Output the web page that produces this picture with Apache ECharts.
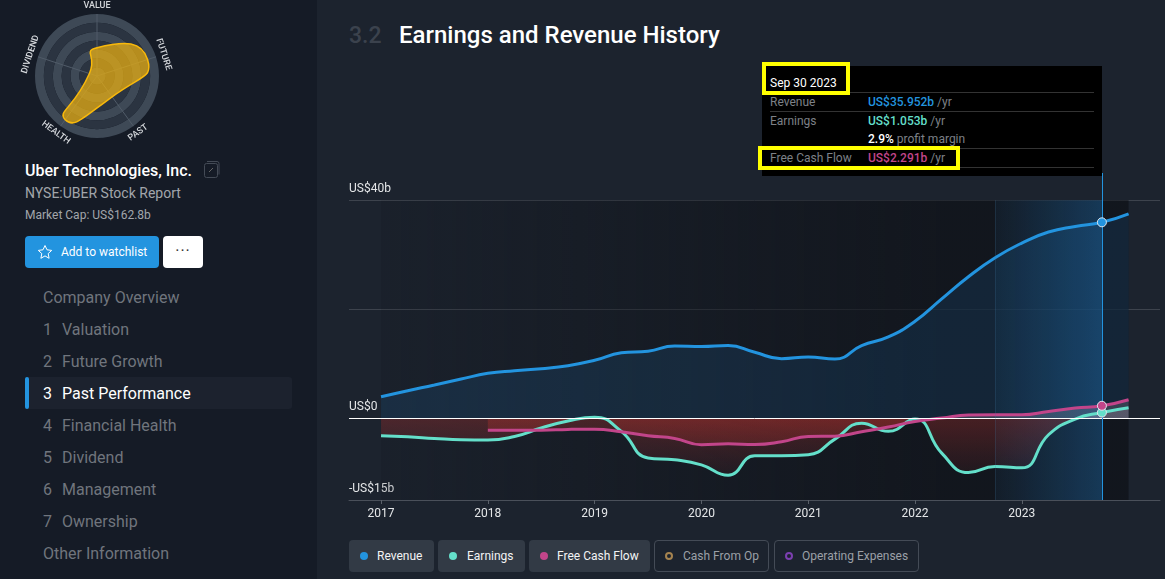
<!DOCTYPE html>
<html>
<head>
<meta charset="utf-8">
<title>Earnings and Revenue History</title>
<script src="https://cdn.jsdelivr.net/npm/echarts@6/dist/echarts.min.js"></script>
<style>
html, body { margin: 0; padding: 0; width: 1165px; height: 579px; overflow: hidden; background: #1c232e; font-family: Roboto, sans-serif; }
div.a { position: absolute; white-space: nowrap; }
#side { position: absolute; left: 0; top: 0; width: 317px; height: 579px; background: #151b26; }
#main { position: absolute; left: 0; top: 0; width: 1165px; height: 579px; }
.nav { position: absolute; left: 43px; height: 32px; line-height: 32px; font-size: 16px; color: #70757d; white-space: nowrap; }
.nav span { display: inline-block; width: 19px; }
.chip { position: absolute; top: 540px; height: 32px; line-height: 32px; border-radius: 4px; font-size: 12px; box-sizing: border-box; white-space: nowrap; }
.chip i { position: absolute; left: 11px; top: 12px; width: 8px; height: 8px; border-radius: 50%; box-sizing: border-box; }
.chip b { position: absolute; font-weight: 400; }
.on { background: #323a45; color: #f2f3f4; }
.off { border: 1px solid #444b56; color: #9ba0a7; line-height: 30px; }
.off i { left: 10px; top: 11px; border-style: solid; border-width: 2px; }
#tip { position: absolute; left: 762px; top: 66px; width: 340px; height: 110px; background: #000; font-size: 12px; color: #7d8187; z-index: 5; }
#tip .r { position: absolute; left: 8px; width: 324px; height: 1px; background: #333; }
#tip .t { position: absolute; white-space: nowrap; }
#tip strong { font-weight: 500; }
.hl { position: absolute; border: 4px solid #ffff00; box-sizing: border-box; z-index: 6; }
</style>
</head>
<body>
<div id="side"></div>
<div id="labels"></div>
<div id="main"></div>
<script>
// quarterly, in fractions of a year
var quarters = [2017, 2017.25, 2017.5, 2017.75, 2018, 2018.25, 2018.5, 2018.75, 2019, 2019.25, 2019.5, 2019.75, 2020,
    2020.25, 2020.5, 2020.75, 2021, 2021.25, 2021.5, 2021.75, 2022, 2022.25, 2022.5, 2022.75, 2023, 2023.25, 2023.5, 2023.75, 2024];
var revenue = [3.95, 5.06, 6.1, 7.2, 8.24, 8.73, 9.1, 9.65, 10.63, 12.0, 12.3, 13.27, 13.15,
    13.33, 12.1, 10.94, 11.25, 10.88, 13.33, 14.93, 17.8, 21.9, 25.97, 29.46, 32.15, 34.17, 35.2, 35.95, 37.5];
var earnings = [-3.22, -3.4, -3.7, -3.95, -4.0, -3.34, -1.8, -0.5, 0.2, -2.4, -7.3, -7.63, -8.55,
    -10.45, -6.9, -6.9, -6.7, -3.83, -0.9, -2.4, -0.15, -6.4, -9.96, -8.86, -9.1, -3.03, -0.15, 1.053, 1.93];
var freeCashFlow = [null, null, null, null, -2.18, -2.18, -2.18, -2.05, -2.0, -2.48, -3.22, -3.7, -4.87,
    -4.69, -4.81, -4.32, -3.34, -3.28, -2.48, -1.62, -0.58, 0.03, 0.6, 0.64, 0.64, 1.25, 1.87, 2.291, 3.4];

var yearTicks = [2017, 2018, 2019, 2020, 2021, 2022, 2023];
var valueGrid = [-15, 20, 40];
var valueLabels = [-15, 0, 40];
var selectedQuarter = 2023.75;
var bandStart = 2022.75;

// snowflake
var snowAxes = ["VALUE", "FUTURE", "PAST", "HEALTH", "DIVIDEND"];
var snowAngles = [0, 72, 144, 216, 288];
var snowScores = [3.2, 6.0, 2.9, 6.1, 0.9];

var navItems = [["", "Company Overview"], ["1", "Valuation"], ["2", "Future Growth"], ["3", "Past Performance"],
    ["4", "Financial Health"], ["5", "Dividend"], ["6", "Management"], ["7", "Ownership"], ["", "Other Information"]];

var BLUE = "#2394df", TEAL = "#64dfca", PINK = "#c2458a";

function pairs(values) {
    return quarters.map(function (q, i) { return [q, values[i]]; });
}

function redFill() {
    // y pixels: the colour changes at the zero line
    return new echarts.graphic.LinearGradient(0, 395, 0, 485, [
        { offset: 0, color: "rgba(255,215,230,0.22)" },
        { offset: 0.26, color: "rgba(255,215,230,0.22)" },
        { offset: 0.26, color: "rgba(215,55,48,0.38)" },
        { offset: 1, color: "rgba(215,55,48,0.03)" }
    ], true);
}

function lineSeries(name, values, color, fill) {
    return {
        name: name,
        type: "line",
        data: pairs(values),
        smooth: 0.5,
        showSymbol: false,
        z: 4,
        lineStyle: { color: color, width: 3 },
        areaStyle: { color: fill, origin: 0 },
        silent: true
    };
}

function dotSeries(values, color) {
    return {
        type: "scatter",
        data: [[selectedQuarter, values[quarters.indexOf(selectedQuarter)]]],
        symbolSize: 9,
        z: 8,
        silent: true,
        itemStyle: { color: color, borderColor: "#dfe6ee", borderWidth: 1, opacity: 1 }
    };
}

var chart = echarts.init(document.getElementById("main"), null, { renderer: "canvas" });

var option = {
    backgroundColor: "transparent",
    animation: false,
    textStyle: { fontFamily: "Roboto" },
    grid: { left: 349, top: 173, width: 811, height: 327 },
    xAxis: {
        type: "value",
        min: 2016.7,
        max: 2024.294,
        splitLine: { show: false },
        axisLine: { show: true, onZero: false, lineStyle: { color: "#4a505a" } },
        axisTick: { show: true, length: 4, customValues: yearTicks, lineStyle: { color: "#5a6069" } },
        axisLabel: {
            customValues: yearTicks, color: "#e4e6e8", fontSize: 12, margin: 8,
            formatter: function (v) { return String(v); }
        }
    },
    yAxis: {
        type: "value",
        min: -15,
        max: 45,
        axisLine: { show: false },
        axisTick: { show: false, customValues: valueGrid },
        splitLine: { show: true, lineStyle: { color: "#3d434d" } },
        axisLabel: {
            customValues: valueLabels, inside: true, margin: 0, color: "#e4e6e8", fontSize: 12,
            verticalAlign: "bottom", padding: [0, 0, 5, 0],
            formatter: function (v) {
                if (v === 0) {
                    return "US$0";
                }
                return (v < 0 ? "-US$" + (-v) : "US$" + v) + "b";
            }
        }
    },
    polar: { center: [97, 76], radius: 62 },
    angleAxis: {
        type: "value", min: 0, max: 360, interval: 72, startAngle: 90,
        axisLine: { show: false }, axisTick: { show: false }, axisLabel: { show: false },
        splitLine: { show: true, lineStyle: { color: "#505b68", width: 1 } }
    },
    radiusAxis: {
        type: "value", min: 0, max: 7, interval: 1,
        axisLine: { show: false }, axisTick: { show: false }, axisLabel: { show: false },
        splitLine: { show: false },
        splitArea: { show: true, areaStyle: { color: ["#3e4956", "#2b3441"] } }
    },
    series: [
        {
            // plot backdrop, highlighted last year and the selected date
            type: "line",
            data: [],
            silent: true,
            z: 1,
            markArea: {
                silent: true,
                data: [
                    [{
                        coord: [2017, 40],
                        itemStyle: {
                            color: new echarts.graphic.LinearGradient(0, 0, 1, 0, [
                                { offset: 0, color: "rgba(15,18,24,0.12)" },
                                { offset: 0.75, color: "rgba(15,18,24,0.72)" },
                                { offset: 1, color: "rgba(15,18,24,0.72)" }
                            ])
                        }
                    }, { coord: [2024, -15] }],
                    [{
                        coord: [bandStart, 40],
                        itemStyle: {
                            color: new echarts.graphic.LinearGradient(0, 0, 1, 0, [
                                { offset: 0, color: "rgba(33,150,243,0.05)" },
                                { offset: 1, color: "rgba(33,150,243,0.27)" }
                            ])
                        }
                    }, { coord: [selectedQuarter, -15] }]
                ]
            }
        },
        lineSeries("Revenue", revenue, BLUE, "rgba(33,150,243,0.17)"),
        lineSeries("Earnings", earnings, TEAL, redFill()),
        lineSeries("Free Cash Flow", freeCashFlow, PINK, redFill()),
        {
            type: "line",
            data: [],
            silent: true,
            z: 6,
            markLine: {
                silent: true,
                symbol: "none",
                label: { show: false },
                data: [
                    [{ coord: [2016.7, 0], lineStyle: { color: "#ffffff", width: 1, type: "solid" } }, { coord: [2024.294, 0] }],
                    [{ coord: [bandStart, 40], lineStyle: { color: "rgba(70,120,160,0.22)", width: 1, type: "solid" } }, { coord: [bandStart, -15] }],
                    [{ coord: [selectedQuarter, 45], lineStyle: { color: BLUE, width: 1, type: "solid" } }, { coord: [selectedQuarter, -15] }]
                ]
            }
        },
        dotSeries(revenue, BLUE),
        dotSeries(earnings, TEAL),
        dotSeries(freeCashFlow, PINK),
        {
            // snowflake blob
            type: "custom",
            coordinateSystem: "polar",
            data: snowScores.map(function (s, i) { return [s, snowAngles[i]]; }),
            silent: true,
            z: 5,
            renderItem: function (params, api) {
                if (params.dataIndex !== 0) {
                    return null;
                }
                var pts = snowScores.map(function (s, i) { return api.coord([s, snowAngles[i]]); });
                return {
                    type: "polygon",
                    shape: { points: pts, smooth: 0.75 },
                    style: { fill: "rgba(236,176,16,0.72)", stroke: "#f9b90b", lineWidth: 1.5 }
                };
            }
        },
        {
            // snowflake axis names
            type: "custom",
            coordinateSystem: "polar",
            data: snowAngles.map(function (a) { return [7.9, a]; }),
            silent: true,
            z: 5,
            renderItem: function (params, api) {
                var a = snowAngles[params.dataIndex];
                var p = api.coord([7.9, a]);
                var rot = (a <= 90 || a >= 270) ? -a : 180 - a;
                return {
                    type: "text",
                    x: p[0],
                    y: p[1],
                    rotation: rot * Math.PI / 180,
                    style: {
                        text: snowAxes[params.dataIndex],
                        fill: "#d5d8dc",
                        font: "500 9px Roboto",
                        align: "center",
                        verticalAlign: "middle"
                    }
                };
            }
        }
    ]
};

chart.setOption(option);

// page furniture around the chart
var labels = document.getElementById("labels");
var html = "";
html += '<div class="a" style="left:25px;top:160px;font-size:16px;font-weight:500;color:#fff;line-height:22px">Uber Technologies, Inc.</div>';
html += '<svg class="a" style="position:absolute;left:203px;top:160px" width="18" height="19" viewBox="0 0 18 19" fill="none" stroke="#444b56"><rect x="1.5" y="3.5" width="13" height="14" rx="2"/><path d="M4 1.5h10a2 2 0 0 1 2 2v11"/><path d="M6 12l4-4" stroke="#666"/></svg>';
html += '<div class="a" style="left:25px;top:184px;font-size:14px;color:#a2a6ab;line-height:18px">NYSE:UBER Stock Report</div>';
html += '<div class="a" style="left:25px;top:207px;font-size:12px;color:#a2a6ab;line-height:16px">Market Cap: US$162.8b</div>';
html += '<div class="a" style="left:25px;top:236px;width:134px;height:32px;background:#2394df;border-radius:4px;color:#fff;font-size:12px;line-height:32px"><span style="position:absolute;left:36px">Add to watchlist</span><svg style="position:absolute;left:12px;top:8px" width="16" height="16" viewBox="0 0 16 16" fill="none" stroke="#fff"><path d="M8 1.5l2 4.3 4.7.6-3.5 3.2.9 4.7L8 11.9l-4.1 2.4.9-4.7L1.300 6.400l4.700-.6z"/></svg></div>';
html += '<div class="a" style="left:163px;top:236px;width:40px;height:32px;background:#fff;border-radius:4px;color:#333;font-size:16px;letter-spacing:1px;line-height:30px;text-align:center">···</div>';
html += '<div class="a" style="left:25px;top:377px;width:267px;height:32px;background:#1c222e;border-radius:3px"></div>';
html += '<div class="a" style="left:25px;top:377px;width:4px;height:32px;background:#2394df;border-radius:2px"></div>';
navItems.forEach(function (item, i) {
    var active = i === 3 ? "color:#fff;" : "";
    html += '<div class="nav" style="top:' + (282 + i * 32) + 'px;' + active + '">' + (item[0] ? "<span>" + item[0] + "</span>" : "") + item[1] + "</div>";
});
html += '<div class="a" style="left:349px;top:21px;font-size:23px;font-weight:500;color:#3b424d;line-height:30px">3.2</div>';
html += '<div class="a" style="left:399px;top:20px;font-size:24px;font-weight:500;color:#fff;line-height:30px">Earnings and Revenue History</div>';

// tooltip for the selected date
html += '<div id="tip">' +
    '<div class="t" style="left:8px;top:10px;color:#fff">Sep 30 2023</div><div class="r" style="top:26px"></div>' +
    '<div class="t" style="left:8px;top:29px">Revenue</div><div class="t" style="left:106px;top:29px"><strong style="color:' + BLUE + '">US$35.952b</strong> /yr</div><div class="r" style="top:45px"></div>' +
    '<div class="t" style="left:8px;top:48px">Earnings</div><div class="t" style="left:106px;top:48px"><strong style="color:' + TEAL + '">US$1.053b</strong> /yr</div>' +
    '<div class="t" style="left:106px;top:66px"><strong style="color:#fff">2.9%</strong> profit margin</div><div class="r" style="top:82px"></div>' +
    '<div class="t" style="left:8px;top:85px">Free Cash Flow</div><div class="t" style="left:106px;top:85px"><strong style="color:' + PINK + '">US$2.291b</strong> /yr</div><div class="r" style="top:101px"></div>' +
    "</div>";
html += '<div class="hl" style="left:762px;top:62px;width:88px;height:33px"></div>';
html += '<div class="hl" style="left:758px;top:146px;width:202px;height:24px"></div>';

// series toggles
var chips = [
    ["on", 349, 85, 28, "Revenue", BLUE, true],
    ["on", 438, 87, 29, "Earnings", TEAL, true],
    ["on", 529, 121, 28, "Free Cash Flow", PINK, true],
    ["off", 654, 115, 28, "Cash From Op", "#a5834f", false],
    ["off", 774, 145, 27, "Operating Expenses", "#7b3fb0", false]
];
chips.forEach(function (c) {
    var dot = c[6] ? "background:" + c[5] : "border-color:" + c[5];
    html += '<div class="chip ' + c[0] + '" style="left:' + c[1] + "px;width:" + c[2] + 'px"><i style="' + dot + '"></i><b style="left:' + c[3] + 'px">' + c[4] + "</b></div>";
});
labels.innerHTML = html;
</script>
</body>
</html>
